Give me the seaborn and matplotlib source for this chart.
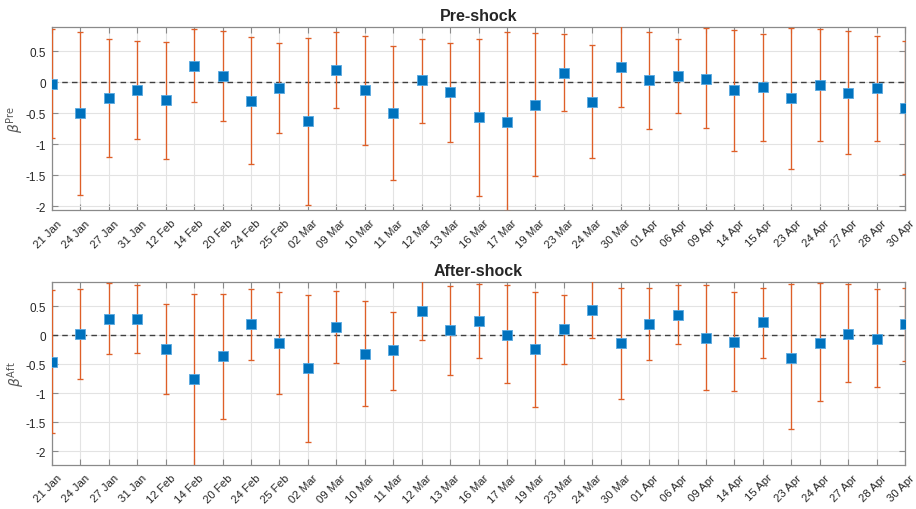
import numpy as np
import pandas as pd
import matplotlib
matplotlib.use("Agg")
import matplotlib.pyplot as plt
import matplotlib.transforms as mtransforms
import seaborn as sns

dates = ["21 Jan", "24 Jan", "27 Jan", "31 Jan", "12 Feb", "14 Feb", "20 Feb", "24 Feb",
         "25 Feb", "02 Mar", "09 Mar", "10 Mar", "11 Mar", "12 Mar", "13 Mar", "16 Mar",
         "17 Mar", "19 Mar", "23 Mar", "24 Mar", "30 Mar", "01 Apr", "06 Apr", "09 Apr",
         "14 Apr", "15 Apr", "23 Apr", "24 Apr", "27 Apr", "28 Apr", "30 Apr"]

pre_beta = [-0.02, -0.50, -0.25, -0.13, -0.28, 0.27, 0.10, -0.30, -0.10, -0.63, 0.19, -0.13,
            -0.49, 0.03, -0.16, -0.56, -0.64, -0.36, 0.15, -0.31, 0.24, 0.03, 0.10, 0.06,
            -0.12, -0.08, -0.26, -0.04, -0.17, -0.10, -0.41]
pre_upper = [0.86, 0.81, 0.70, 0.66, 0.65, 0.86, 0.83, 0.73, 0.63, 0.72, 0.81, 0.75,
             0.59, 0.70, 0.63, 0.70, 0.81, 0.80, 0.77, 0.60, 0.95, 0.81, 0.70, 0.87,
             0.84, 0.77, 0.87, 0.86, 0.82, 0.75, 0.66]
pre_lower = [-0.89, -1.81, -1.20, -0.91, -1.24, -0.31, -0.63, -1.31, -0.81, -1.98, -0.42, -1.01,
             -1.57, -0.66, -0.96, -1.84, -2.08, -1.51, -0.47, -1.22, -0.40, -0.76, -0.49, -0.73,
             -1.10, -0.95, -1.39, -0.94, -1.15, -0.95, -1.47]

aft_beta = [-0.47, 0.02, 0.28, 0.27, -0.24, -0.76, -0.36, 0.19, -0.14, -0.56, 0.14, -0.32,
            -0.26, 0.41, 0.09, 0.24, 0.01, -0.24, 0.10, 0.44, -0.14, 0.20, 0.34, -0.05,
            -0.11, 0.22, -0.39, -0.13, 0.02, -0.06, 0.19]
aft_upper = [0.77, 0.79, 0.89, 0.86, 0.53, 0.71, 0.71, 0.80, 0.74, 0.70, 0.76, 0.59,
             0.40, 0.95, 0.84, 0.88, 0.87, 0.75, 0.70, 0.95, 0.82, 0.82, 0.86, 0.86,
             0.74, 0.82, 0.88, 0.89, 0.88, 0.79, 0.82]
aft_lower = [-1.69, -0.75, -0.32, -0.30, -1.01, -2.30, -1.44, -0.43, -1.01, -1.84, -0.48, -1.22,
             -0.95, -0.09, -0.69, -0.40, -0.82, -1.23, -0.49, -0.05, -1.10, -0.42, -0.16, -0.94,
             -0.96, -0.39, -1.62, -1.14, -0.81, -0.90, -0.44]

sns.set_theme(style="white")
plt.rcParams["font.family"] = ["Liberation Sans", "DejaVu Sans"]

fig = plt.figure(figsize=(9.16, 5.10), dpi=100)
ax1 = fig.add_axes([0.0568, 0.586, 0.9312, 0.359])
ax2 = fig.add_axes([0.0568, 0.0869, 0.9312, 0.3576])

blue = "#0072BD"
orange = "#DE5F28"
spine = "#8a8a8a"

panels = [
    (ax1, pre_beta, pre_upper, pre_lower, "Pre-shock", r"$\beta^{\mathrm{Pre}}$", (-2.06, 0.89)),
    (ax2, aft_beta, aft_upper, aft_lower, "After-shock", r"$\beta^{\mathrm{Aft}}$", (-2.23, 0.91)),
]

yt = [-2, -1.5, -1, -0.5, 0, 0.5]
ytl = ["-2", "-1.5", "-1", "-0.5", "0", "0.5"]

for ax, beta, up, lo, title, ylab, ylim in panels:
    x = np.arange(len(dates))
    df = pd.DataFrame({"x": x, "beta": beta})
    b = np.array(beta)
    yerr = np.vstack([b - np.array(lo), np.array(up) - b])
    ax.axhline(0, color="#404040", ls=(0, (4, 3)), lw=1.0, zorder=2)
    ax.errorbar(x, b, yerr=yerr, fmt="none", ecolor=orange, elinewidth=0.95,
                capsize=2.2, capthick=0.95, zorder=3)
    sns.scatterplot(data=df, x="x", y="beta", ax=ax, marker="s", s=54,
                    color=blue, edgecolor="#5aa9e0", linewidth=0.6, zorder=4, legend=False)
    ax.set_xlim(0, len(dates) - 1)
    ax.set_ylim(*ylim)
    ax.set_xticks(x)
    ax.set_yticks(yt)
    ax.grid(True, color="#e3e3e3", lw=0.8)
    ax.set_axisbelow(True)
    ax.tick_params(direction="in", length=4, width=0.8, color=spine,
                   top=True, right=True, bottom=True, left=True)
    ax.tick_params(axis="x", pad=8)
    ax.tick_params(axis="y", pad=4.5)
    ax.set_xticklabels(dates, rotation=45, ha="right", va="center", rotation_mode="anchor",
                       fontsize=8.2, color="#262626")
    ax.set_yticklabels(ytl, fontsize=8.5, color="#262626")
    offset = mtransforms.ScaledTranslation(8 / 100, 0, fig.dpi_scale_trans)
    for lab in ax.get_xticklabels():
        lab.set_transform(lab.get_transform() + offset)
    for s in ax.spines.values():
        s.set_color(spine)
        s.set_linewidth(0.9)
    ax.set_xlabel("")
    ax.set_ylabel(ylab, fontsize=10, color="#555555")
    ax.yaxis.set_label_coords(-0.031, 0.5)
    ax.set_title(title, fontsize=11.5, fontweight="bold", pad=5)

fig.savefig("out.png", dpi=100)
